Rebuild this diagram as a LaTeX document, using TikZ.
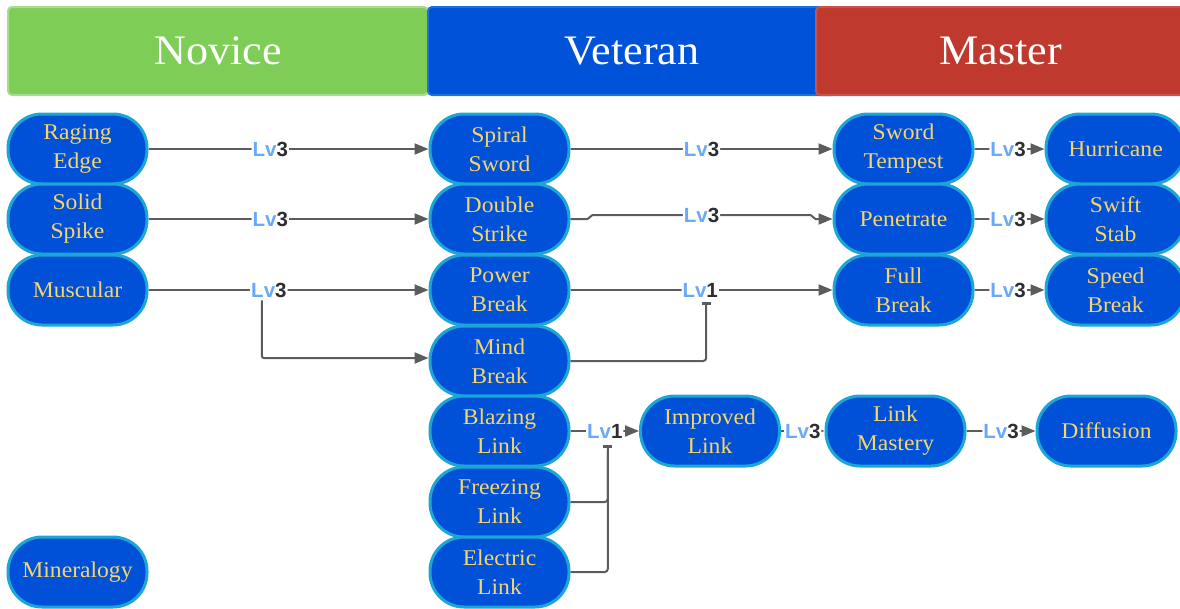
\documentclass[tikz,border=0pt]{standalone}
\usepackage{fontspec}
\setmainfont{Liberation Serif}[FakeStretch=1.05]
\newfontfamily\lvfont{Liberation Sans}
\usetikzlibrary{arrows.meta}
\definecolor{novgreen}{HTML}{7ECD57}
\definecolor{novrim}{HTML}{A9DD8E}
\definecolor{vetblue}{HTML}{0052D9}
\definecolor{vetrim}{HTML}{1E6FE0}
\definecolor{masred}{HTML}{C0392F}
\definecolor{masrim}{HTML}{C9524A}
\definecolor{skillblue}{HTML}{0050D8}
\definecolor{skillrim}{HTML}{1CA6D8}
\definecolor{skilltext}{HTML}{F6D66C}
\definecolor{linegray}{HTML}{5C5C5C}
\definecolor{lvblue}{HTML}{6AA9FA}
\definecolor{lvdark}{HTML}{2E2E2E}
\newcommand\lvtag[1]{\textcolor{lvblue}{Lv}\textcolor{lvdark}{#1}}
\begin{document}
\begin{tikzpicture}[x=1pt,y=-1pt,
  phase/.style={minimum height=88pt, text=white, line width=2pt,
    rounded corners=4pt, inner sep=0pt, font=\fontsize{42}{50}\selectfont},
  skill/.style={draw=skillrim, line width=3pt, fill=skillblue,
    rounded corners=34pt, minimum width=139pt, minimum height=70pt,
    text=skilltext, align=center, inner sep=0pt,
    font=\fontsize{22.5}{29}\selectfont},
  conn/.style={draw=linegray, line width=2pt, rounded corners=2pt,
    -{Triangle[length=14pt,width=11pt]}},
  feed/.style={draw=linegray, line width=2pt, rounded corners=3pt},
  teeconn/.style={feed, -{Bar[width=9pt,line width=3pt]}},
  lv/.style={fill=white, inner sep=1pt, font=\lvfont\bfseries\fontsize{20.5}{20.5}\selectfont}]
\useasboundingbox (0,0) rectangle (1180,608);

% phase headers
\node[phase, fill=novgreen, draw=novrim, minimum width=420pt] (novice) at (218,51) {Novice};
\node[phase, fill=vetblue, draw=vetrim, minimum width=408pt] (veteran) at (632,51) {Veteran};
\node[phase, fill=masred, draw=masrim, minimum width=370pt] (master) at (1001,51) {Master};

% novice skills
\node[skill] (raging) at (77.5,149) {Raging\\Edge};
\node[skill] (solid) at (77.5,219) {Solid\\Spike};
\node[skill] (muscular) at (77.5,290) {Muscular};
\node[skill] (mineral) at (77.5,572) {Mineralogy};

% veteran skills
\node[skill] (spiral) at (499.5,149) {Spiral\\Sword};
\node[skill] (double) at (499.5,219) {Double\\Strike};
\node[skill] (power) at (499.5,290) {Power\\Break};
\node[skill] (mind) at (499.5,361) {Mind\\Break};
\node[skill] (blazing) at (499.5,431) {Blazing\\Link};
\node[skill] (freezing) at (499.5,502) {Freezing\\Link};
\node[skill] (electric) at (499.5,572) {Electric\\Link};
\node[skill] (improved) at (710,431) {Improved\\Link};

% master skills
\node[skill] (tempest) at (903.5,149) {Sword\\Tempest};
\node[skill] (penetrate) at (903.5,219) {Penetrate};
\node[skill] (fullbreak) at (903.5,290) {Full\\Break};
\node[skill] (hurricane) at (1115.5,149) {Hurricane};
\node[skill] (swift) at (1115.5,219) {Swift\\Stab};
\node[skill] (speed) at (1115.5,290) {Speed\\Break};
\node[skill] (mastery) at (895.5,431) {Link\\Mastery};
\node[skill] (diffusion) at (1106.5,431) {Diffusion};

% novice -> veteran
\draw[conn] (raging) -- node[lv, pos=.435] (l1) {\lvtag{3}} (spiral);
\draw[conn] (solid) -- node[lv, pos=.435] (l2) {\lvtag{3}} (double);
\draw[conn] (muscular) -- node[lv, pos=.43] (l3) {\lvtag{3}} (power);
\draw[conn] ([xshift=-7pt,yshift=-1pt]l3.south) |- ([yshift=3pt]mind.west);

% veteran -> master
\draw[conn] (double.east) -- ([xshift=19pt]double.east)
  -- ([xshift=20pt,yshift=4pt]double.east)
  -- node[lv] (l5) {\lvtag{3}} ([xshift=-20pt,yshift=4pt]penetrate.west)
  -- ([xshift=-19pt]penetrate.west) -- (penetrate.west);
\draw[conn] (spiral) -- node[lv, pos=.5] (l4) {\lvtag{3}} (tempest);
\draw[conn] (power) -- node[lv, pos=.495] (l6) {\lvtag{1}} (fullbreak);
\draw[teeconn] (mind.east) -| ([xshift=6pt,yshift=-3pt]l6.south);

% link chain
\draw[conn] (blazing) -- node[lv, pos=.5] (l7) {\lvtag{1}} (improved);
\coordinate (linkjoin) at ([xshift=3pt,yshift=-5pt]l7.south);
\draw[teeconn] (freezing.east) -| (linkjoin);
\draw[feed] (electric.east) -| ([yshift=-6pt]linkjoin);
\draw[conn] (improved) -- node[lv, pos=.5] (l8) {\lvtag{3}} (mastery);
\draw[conn] (mastery) -- node[lv, pos=.5] (l9) {\lvtag{3}} (diffusion);

% master -> master
\draw[conn] (tempest) -- node[lv, pos=.48] (l10) {\lvtag{3}} (hurricane);
\draw[conn] (penetrate) -- node[lv, pos=.48] (l11) {\lvtag{3}} (swift);
\draw[conn] (fullbreak) -- node[lv, pos=.48] (l12) {\lvtag{3}} (speed);
\end{tikzpicture}
\end{document}
